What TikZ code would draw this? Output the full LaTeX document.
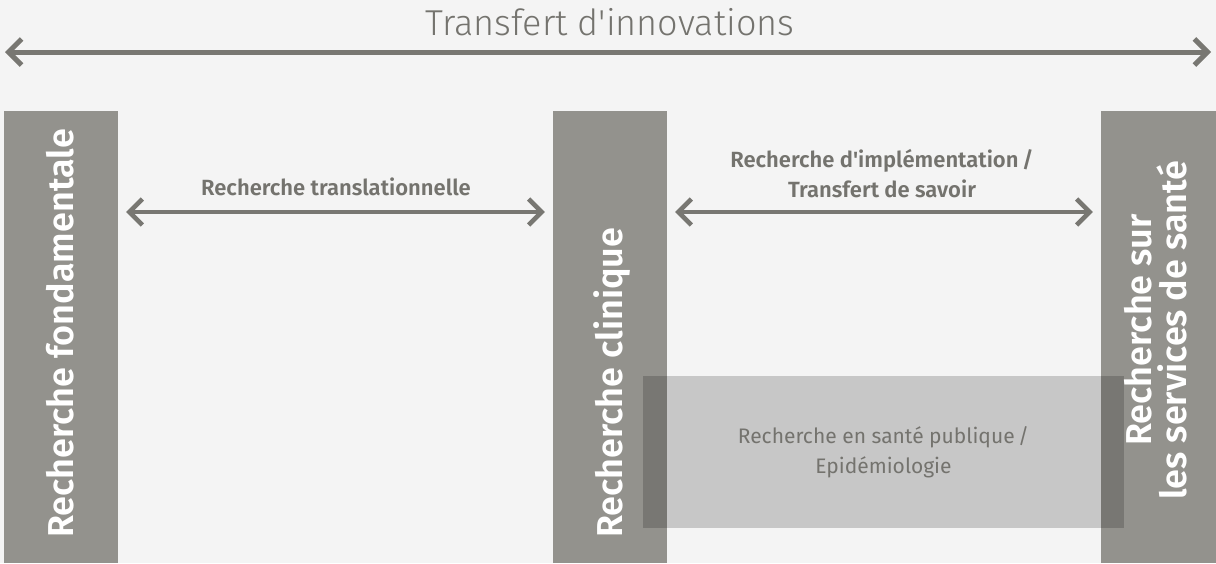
\documentclass[tikz,border=0pt]{standalone}
\usepackage{fontspec}
\setmainfont{Fira Sans}
\newfontfamily\titlefont{Fira Sans Light}
\newfontfamily\semifont{Fira Sans SemiBold}
\usetikzlibrary{arrows.meta}
\definecolor{bgc}{HTML}{F4F4F4}
\definecolor{barc}{HTML}{93928D}
\definecolor{arrc}{HTML}{787772}
\definecolor{txtc}{HTML}{74736E}
\tikzset{
  bar/.style={fill=barc, draw=none, minimum width=114pt, minimum height=452pt, inner sep=0pt},
  vlabel/.style={rotate=90, text=white, inner sep=0pt, font=\semifont\fontsize{36}{35}\selectfont},
  dbl/.style={{Straight Barb[length=13pt,width=26pt]}-{Straight Barb[length=13pt,width=26pt]}, draw=arrc, line width=4.5pt},
  midlabel/.style={text=txtc, inner sep=0pt, align=center, font=\semifont\fontsize{22}{30}\selectfont},
}
\begin{document}
\begin{tikzpicture}[x=1pt,y=-1pt]
\useasboundingbox[fill=bgc] (0,0) rectangle (1216,563);
\node[anchor=base, text=txtc, inner sep=0pt, font=\titlefont\fontsize{36}{40}\selectfont] (title) at (610,35) {Transfert d'innovations};
\coordinate (tl) at (5,52);
\coordinate (tr) at (1211,52);
\draw[dbl, line width=5pt] (tl) -- (tr);
\node[bar] (b1) at (61,337) {};
\node[bar] (b2) at (610,337) {};
\node[bar, minimum width=115pt] (b3) at (1158.5,337) {};
\node[vlabel, anchor=base west] (t1) at (73,538) {Recherche fondamentale};
\node[vlabel, anchor=base west] (t2) at (622,538) {Recherche clinique};
\node[vlabel, align=center] (t3) at (1156,330) {Recherche sur\\les services de santé};
\draw[dbl, shorten <=8pt, shorten >=8pt] (b1.east |- 0,212) -- (b2.west |- 0,212);
\draw[dbl, shorten <=8pt, shorten >=8pt] (b2.east |- 0,212) -- (b3.west |- 0,212);
\node[midlabel, anchor=base] (l1) at (336,195) {Recherche translationnelle};
\node[midlabel] (l2) at (882,174) {Recherche d'implémentation\,/\\Transfert de savoir};
\node[fill=black, fill opacity=0.18, text opacity=1, text=txtc, minimum width=481pt, minimum height=152pt, inner sep=0pt, align=center, font=\fontsize{21}{30}\selectfont] (box) at (883.5,452) {Recherche en santé publique\,/\\Epidémiologie};
\end{tikzpicture}
\end{document}
